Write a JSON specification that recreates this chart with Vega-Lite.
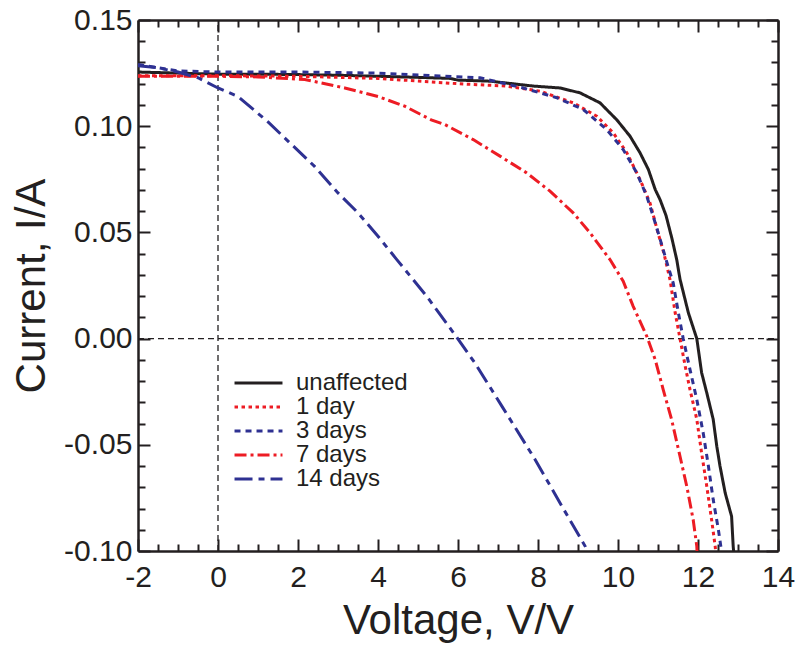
{
  "$schema": "https://vega.github.io/schema/vega-lite/v6.json",
  "width": 640,
  "height": 531,
  "autosize": {"type": "none"},
  "padding": {"left": 138, "top": 20, "right": 19, "bottom": 99},
  "background": "white",
  "config": {
    "view": {"stroke": null},
    "font": "Liberation Sans",
    "axis": {
      "grid": false,
      "domainColor": "#231f20",
      "domainWidth": 2.5,
      "tickColor": "#231f20",
      "tickWidth": 2,
      "labelColor": "#231f20",
      "titleColor": "#231f20",
      "labelFont": "Liberation Sans",
      "titleFont": "Liberation Sans",
      "labelFontSize": 30,
      "titleFontSize": 42,
      "titleFontWeight": "normal",
      "labelFlush": false,
      "labelOverlap": false,
      "tickCount": 100
    },
    "legend": {
      "orient": "none",
      "legendX": 95,
      "legendY": 351,
      "symbolType": "stroke",
      "symbolSize": 2300,
      "symbolStrokeWidth": 3,
      "labelOffset": 12,
      "rowPadding": 0,
      "clipHeight": 24,
      "labelLimit": 300,
      "labelFont": "Liberation Sans",
      "labelFontSize": 24,
      "labelColor": "#231f20"
    }
  },
  "datasets": {
    "curves": [
      {"series": "unaffected", "V": -2, "I": 0.1255},
      {"series": "unaffected", "V": -1, "I": 0.125},
      {"series": "unaffected", "V": 0, "I": 0.1245},
      {"series": "unaffected", "V": 1, "I": 0.1245},
      {"series": "unaffected", "V": 2, "I": 0.1243},
      {"series": "unaffected", "V": 3, "I": 0.124},
      {"series": "unaffected", "V": 4, "I": 0.1235},
      {"series": "unaffected", "V": 5, "I": 0.123},
      {"series": "unaffected", "V": 5.8, "I": 0.1225},
      {"series": "unaffected", "V": 6, "I": 0.1217},
      {"series": "unaffected", "V": 6.8, "I": 0.1212},
      {"series": "unaffected", "V": 7.88, "I": 0.1189},
      {"series": "unaffected", "V": 8.55, "I": 0.118},
      {"series": "unaffected", "V": 9.05, "I": 0.1157},
      {"series": "unaffected", "V": 9.55, "I": 0.111},
      {"series": "unaffected", "V": 9.97, "I": 0.103},
      {"series": "unaffected", "V": 10.3, "I": 0.0953},
      {"series": "unaffected", "V": 10.55, "I": 0.0875},
      {"series": "unaffected", "V": 10.76, "I": 0.0796},
      {"series": "unaffected", "V": 10.93, "I": 0.0702},
      {"series": "unaffected", "V": 11.05, "I": 0.0655},
      {"series": "unaffected", "V": 11.2, "I": 0.058},
      {"series": "unaffected", "V": 11.35, "I": 0.047},
      {"series": "unaffected", "V": 11.47, "I": 0.037},
      {"series": "unaffected", "V": 11.55, "I": 0.028},
      {"series": "unaffected", "V": 11.76, "I": 0.0121},
      {"series": "unaffected", "V": 11.97, "I": 0.0},
      {"series": "unaffected", "V": 12.09, "I": -0.016},
      {"series": "unaffected", "V": 12.22, "I": -0.0256},
      {"series": "unaffected", "V": 12.38, "I": -0.038},
      {"series": "unaffected", "V": 12.47, "I": -0.0507},
      {"series": "unaffected", "V": 12.55, "I": -0.06},
      {"series": "unaffected", "V": 12.68, "I": -0.0727},
      {"series": "unaffected", "V": 12.84, "I": -0.0837},
      {"series": "unaffected", "V": 12.88, "I": -0.0978},
      {"series": "unaffected", "V": 12.9, "I": -0.102},

      {"series": "1 day", "V": -2, "I": 0.1238},
      {"series": "1 day", "V": 0, "I": 0.1238},
      {"series": "1 day", "V": 2, "I": 0.1235},
      {"series": "1 day", "V": 4, "I": 0.1225},
      {"series": "1 day", "V": 6, "I": 0.12},
      {"series": "1 day", "V": 7.2, "I": 0.1189},
      {"series": "1 day", "V": 8.05, "I": 0.1165},
      {"series": "1 day", "V": 8.88, "I": 0.111},
      {"series": "1 day", "V": 9.47, "I": 0.1047},
      {"series": "1 day", "V": 9.88, "I": 0.0969},
      {"series": "1 day", "V": 10.22, "I": 0.0875},
      {"series": "1 day", "V": 10.55, "I": 0.0749},
      {"series": "1 day", "V": 10.8, "I": 0.0639},
      {"series": "1 day", "V": 11.0, "I": 0.0498},
      {"series": "1 day", "V": 11.15, "I": 0.04},
      {"series": "1 day", "V": 11.3, "I": 0.0278},
      {"series": "1 day", "V": 11.43, "I": 0.0121},
      {"series": "1 day", "V": 11.55, "I": 0.0},
      {"series": "1 day", "V": 11.68, "I": -0.013},
      {"series": "1 day", "V": 11.8, "I": -0.024},
      {"series": "1 day", "V": 11.97, "I": -0.038},
      {"series": "1 day", "V": 12.09, "I": -0.0538},
      {"series": "1 day", "V": 12.22, "I": -0.0696},
      {"series": "1 day", "V": 12.34, "I": -0.0853},
      {"series": "1 day", "V": 12.43, "I": -0.0978},
      {"series": "1 day", "V": 12.45, "I": -0.102},

      {"series": "3 days", "V": -2, "I": 0.129},
      {"series": "3 days", "V": -1.5, "I": 0.1275},
      {"series": "3 days", "V": -1, "I": 0.126},
      {"series": "3 days", "V": 0, "I": 0.1255},
      {"series": "3 days", "V": 2, "I": 0.1255},
      {"series": "3 days", "V": 4, "I": 0.125},
      {"series": "3 days", "V": 5.55, "I": 0.1236},
      {"series": "3 days", "V": 6.55, "I": 0.1228},
      {"series": "3 days", "V": 7.63, "I": 0.118},
      {"series": "3 days", "V": 8.47, "I": 0.1134},
      {"series": "3 days", "V": 9.13, "I": 0.1079},
      {"series": "3 days", "V": 9.72, "I": 0.0984},
      {"series": "3 days", "V": 10.13, "I": 0.089},
      {"series": "3 days", "V": 10.47, "I": 0.078},
      {"series": "3 days", "V": 10.72, "I": 0.067},
      {"series": "3 days", "V": 10.88, "I": 0.0576},
      {"series": "3 days", "V": 11.05, "I": 0.047},
      {"series": "3 days", "V": 11.22, "I": 0.036},
      {"series": "3 days", "V": 11.38, "I": 0.0262},
      {"series": "3 days", "V": 11.51, "I": 0.0121},
      {"series": "3 days", "V": 11.63, "I": 0.0},
      {"series": "3 days", "V": 11.8, "I": -0.0146},
      {"series": "3 days", "V": 11.97, "I": -0.0287},
      {"series": "3 days", "V": 12.13, "I": -0.0444},
      {"series": "3 days", "V": 12.26, "I": -0.06},
      {"series": "3 days", "V": 12.38, "I": -0.0758},
      {"series": "3 days", "V": 12.51, "I": -0.09},
      {"series": "3 days", "V": 12.57, "I": -0.0978},
      {"series": "3 days", "V": 12.6, "I": -0.102},

      {"series": "7 days", "V": -2, "I": 0.1235},
      {"series": "7 days", "V": 0, "I": 0.1235},
      {"series": "7 days", "V": 1, "I": 0.1232},
      {"series": "7 days", "V": 2.17, "I": 0.122},
      {"series": "7 days", "V": 3.17, "I": 0.118},
      {"series": "7 days", "V": 4, "I": 0.114},
      {"series": "7 days", "V": 4.67, "I": 0.1094},
      {"series": "7 days", "V": 5.33, "I": 0.103},
      {"series": "7 days", "V": 5.67, "I": 0.1008},
      {"series": "7 days", "V": 6.38, "I": 0.0937},
      {"series": "7 days", "V": 7.05, "I": 0.0859},
      {"series": "7 days", "V": 7.72, "I": 0.078},
      {"series": "7 days", "V": 8.3, "I": 0.0694},
      {"series": "7 days", "V": 8.88, "I": 0.0592},
      {"series": "7 days", "V": 9.3, "I": 0.0498},
      {"series": "7 days", "V": 9.8, "I": 0.0372},
      {"series": "7 days", "V": 10.13, "I": 0.027},
      {"series": "7 days", "V": 10.38, "I": 0.0152},
      {"series": "7 days", "V": 10.72, "I": 0.0011},
      {"series": "7 days", "V": 10.93, "I": -0.0099},
      {"series": "7 days", "V": 11.13, "I": -0.024},
      {"series": "7 days", "V": 11.34, "I": -0.0381},
      {"series": "7 days", "V": 11.55, "I": -0.0554},
      {"series": "7 days", "V": 11.72, "I": -0.0696},
      {"series": "7 days", "V": 11.88, "I": -0.0853},
      {"series": "7 days", "V": 11.97, "I": -0.0978},
      {"series": "7 days", "V": 11.98, "I": -0.102},

      {"series": "14 days", "V": -2, "I": 0.1285},
      {"series": "14 days", "V": -1.5, "I": 0.1275},
      {"series": "14 days", "V": -1, "I": 0.1255},
      {"series": "14 days", "V": -0.5, "I": 0.1228},
      {"series": "14 days", "V": 0, "I": 0.118},
      {"series": "14 days", "V": 0.5, "I": 0.114},
      {"series": "14 days", "V": 1.25, "I": 0.102},
      {"series": "14 days", "V": 1.75, "I": 0.093},
      {"series": "14 days", "V": 2.42, "I": 0.081},
      {"series": "14 days", "V": 3.0, "I": 0.0686},
      {"series": "14 days", "V": 3.5, "I": 0.0592},
      {"series": "14 days", "V": 4.0, "I": 0.0482},
      {"series": "14 days", "V": 4.47, "I": 0.0372},
      {"series": "14 days", "V": 5.22, "I": 0.0199},
      {"series": "14 days", "V": 5.95, "I": 0.0011},
      {"series": "14 days", "V": 6.42, "I": -0.0114},
      {"series": "14 days", "V": 7.1, "I": -0.0319},
      {"series": "14 days", "V": 7.93, "I": -0.057},
      {"series": "14 days", "V": 8.6, "I": -0.079},
      {"series": "14 days", "V": 9.18, "I": -0.0978},
      {"series": "14 days", "V": 9.25, "I": -0.101}
    ]
  },
  "layer": [
    {
      "data": {"values": [{"x1": -2, "x2": 14, "y": 0}]},
      "mark": {"type": "rule", "color": "#231f20", "strokeWidth": 1.3, "strokeDash": [6, 4]},
      "encoding": {
        "x": {"field": "x1", "type": "quantitative", "scale": {"domain": [-2, 14], "nice": false, "zero": false},
          "axis": {"orient": "top", "values": [-2, -1.5, -1, -0.5, 0, 0.5, 1, 1.5, 2, 2.5, 3, 3.5, 4, 4.5, 5, 5.5, 6, 6.5, 7, 7.5, 8, 8.5, 9, 9.5, 10, 10.5, 11, 11.5, 12, 12.5, 13, 13.5, 14],
            "tickSize": {"condition": {"test": "datum.value % 2 == 0", "value": -12}, "value": -7},
            "labels": false, "title": null}},
        "x2": {"field": "x2"},
        "y": {"field": "y", "type": "quantitative", "scale": {"domain": [-0.1, 0.15], "nice": false, "zero": false},
          "axis": {"orient": "right", "values": [-0.1, -0.09, -0.08, -0.07, -0.06, -0.05, -0.04, -0.03, -0.02, -0.01, 0, 0.01, 0.02, 0.03, 0.04, 0.05, 0.06, 0.07, 0.08, 0.09, 0.1, 0.11, 0.12, 0.13, 0.14, 0.15],
            "tickSize": {"condition": {"test": "round(datum.value * 100) % 5 == 0", "value": -12}, "value": -7},
            "labels": false, "title": null}}
      }
    },
    {
      "data": {"values": [{"x": 0, "y1": -0.1, "y2": 0.15}]},
      "mark": {"type": "rule", "color": "#231f20", "strokeWidth": 1.3, "strokeDash": [6, 4]},
      "encoding": {
        "x": {"field": "x", "type": "quantitative", "scale": {"domain": [-2, 14], "nice": false, "zero": false}, "axis": null},
        "y": {"field": "y1", "type": "quantitative", "scale": {"domain": [-0.1, 0.15], "nice": false, "zero": false}, "axis": null},
        "y2": {"field": "y2"}
      }
    },
    {
      "data": {"name": "curves"},
      "mark": {"type": "line", "strokeWidth": 3, "clip": true},
      "encoding": {
        "x": {"field": "V", "type": "quantitative", "scale": {"domain": [-2, 14], "nice": false, "zero": false},
          "axis": {"orient": "bottom", "values": [-2, -1.5, -1, -0.5, 0, 0.5, 1, 1.5, 2, 2.5, 3, 3.5, 4, 4.5, 5, 5.5, 6, 6.5, 7, 7.5, 8, 8.5, 9, 9.5, 10, 10.5, 11, 11.5, 12, 12.5, 13, 13.5, 14],
            "tickSize": {"condition": {"test": "datum.value % 2 == 0", "value": -12}, "value": -7},
            "labelPadding": 23,
            "labelExpr": "datum.value % 2 == 0 ? (datum.value < 0 ? '-' : '') + format(abs(datum.value), 'd') : ''",
            "title": "Voltage, V/V", "titlePadding": 3}},
        "y": {"field": "I", "type": "quantitative", "scale": {"domain": [-0.1, 0.15], "nice": false, "zero": false},
          "axis": {"orient": "left", "values": [-0.1, -0.09, -0.08, -0.07, -0.06, -0.05, -0.04, -0.03, -0.02, -0.01, 0, 0.01, 0.02, 0.03, 0.04, 0.05, 0.06, 0.07, 0.08, 0.09, 0.1, 0.11, 0.12, 0.13, 0.14, 0.15],
            "tickSize": {"condition": {"test": "round(datum.value * 100) % 5 == 0", "value": -12}, "value": -7},
            "labelPadding": 18,
            "labelExpr": "round(datum.value * 100) % 5 == 0 ? (datum.value < 0 ? '-' : '') + format(abs(datum.value), '.2f') : ''",
            "title": "Current, I/A", "titlePadding": 10}},
        "order": {"field": "V", "type": "quantitative"},
        "color": {"field": "series", "type": "nominal",
          "scale": {"domain": ["unaffected", "1 day", "3 days", "7 days", "14 days"], "range": ["#231f20", "#ed1c24", "#2e3192", "#ed1c24", "#2e3192"]},
          "title": null},
        "strokeDash": {"field": "series", "type": "nominal",
          "scale": {"domain": ["unaffected", "1 day", "3 days", "7 days", "14 days"], "range": [[1, 0], [3.5, 3.5], [6, 5], [12, 4, 3, 4], [18, 6, 6, 6]]},
          "title": null}
      }
    }
  ],
  "resolve": {"axis": {"x": "independent", "y": "independent"}}
}
